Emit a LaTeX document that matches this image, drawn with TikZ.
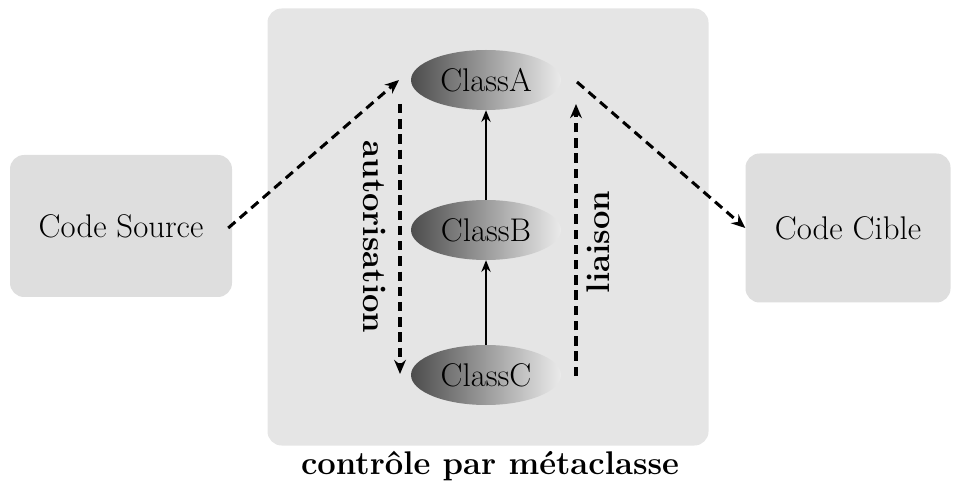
\documentclass[tikz,border=0pt]{standalone}
\usetikzlibrary{shapes.geometric,arrows.meta}
\begin{document}
\begin{tikzpicture}[x=0.03cm,y=-0.03cm,
  every node/.style={font=\fontsize{28}{32}\selectfont},
  panel/.style={fill=black!13,rounded corners=12pt,inner sep=0pt},
  classnode/.style={ellipse,minimum width=150*0.03cm,minimum height=60*0.03cm,inner sep=0pt,
    left color=black!70,right color=black!8,shading angle=90},
  flow/.style={line width=2.6pt,dash pattern=on 8pt off 5pt,-{Stealth[length=12pt,width=10pt]}},
  link/.style={line width=1.2pt,-{Stealth[length=10pt,width=8pt]}},
  tag/.style={font=\fontsize{28}{32}\selectfont\bfseries}]
\useasboundingbox (0,0) rectangle (956,487);

% the three panels
\node[panel,minimum width=222*0.03cm,minimum height=142*0.03cm] (src) at (121,226) {};
\node[panel,fill=black!10,minimum width=441*0.03cm,minimum height=437*0.03cm] (meta) at (488,227) {};
\node[panel,minimum width=205*0.03cm,minimum height=149*0.03cm] (tgt) at (848,228) {};
\node at (src.center) (srct) {Code Source};
\node at (tgt.center) (tgtt) {Code Cible};
\node[tag] (cap) at (490,466) {contr\^ole par m\'etaclasse};

% classes
\node[classnode] (A) at (486,80) {ClassA};
\node[classnode] (B) at (486,230) {ClassB};
\node[classnode] (C) at (486,375) {ClassC};
\draw[link] (B.north) -- (A.south);
\draw[link] (C.north) -- (B.south);

% dashed flows
\coordinate (inA) at (399,80);
\coordinate (authtop) at (400,104);
\coordinate (authbot) at (400,374);
\coordinate (liabot) at (576,376);
\coordinate (liatop) at (576,104);
\coordinate (outA) at (577,82);
\draw[flow] (src.east) ++(-4,2) coordinate (srcout) -- (inA);
\draw[flow] (authtop) -- (authbot);
\draw[flow] (liabot) -- (liatop);
\draw[flow] (outA) -- (tgt.west);

\node[tag,rotate=-90] (auth) at (375,237) {autorisation};
\node[tag,rotate=90] (lia) at (598,242) {liaison};
\end{tikzpicture}
\end{document}
